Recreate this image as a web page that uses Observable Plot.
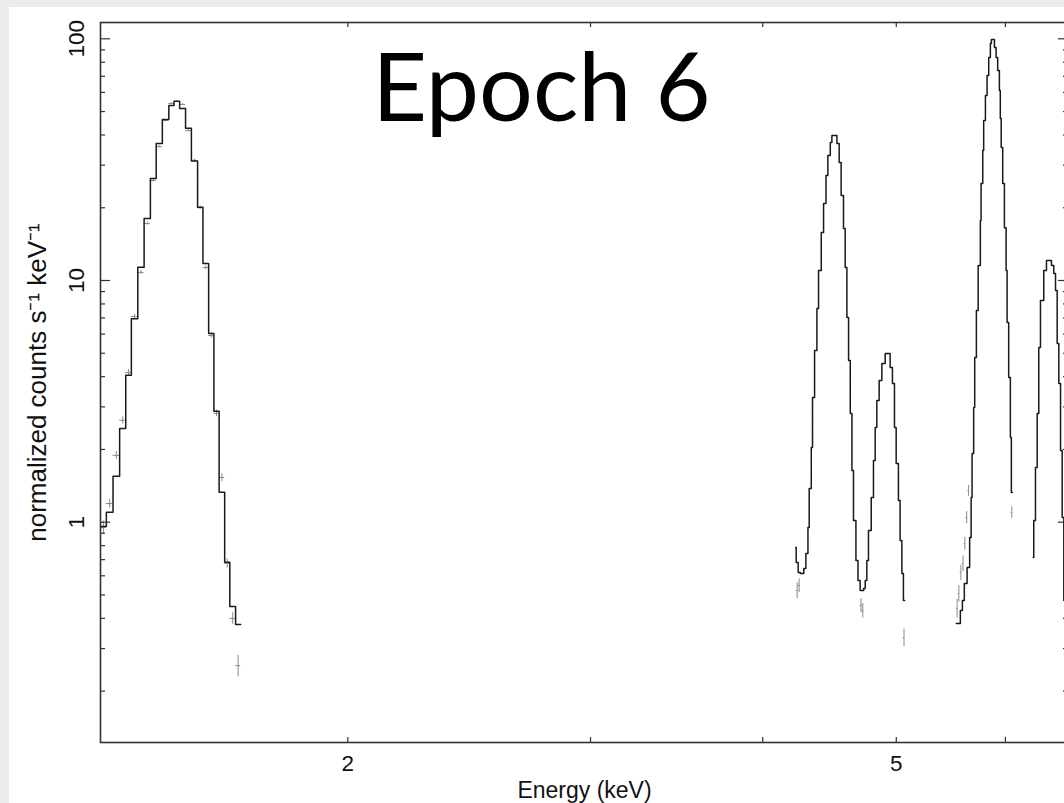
<!DOCTYPE html>
<html>
<head>
<meta charset="utf-8">
<script src="https://cdn.jsdelivr.net/npm/d3@7"></script>
<script src="https://cdn.jsdelivr.net/npm/@observablehq/plot@0.6"></script>
<style>
  html, body { margin: 0; padding: 0; background: #ebebeb; overflow: hidden; width: 1064px; height: 803px; }
  #panel { position: absolute; left: 9px; top: 7px; width: 1064px; height: 796px; background: #fff; overflow: hidden; }
</style>
</head>
<body>
<div id="panel"></div>
<script>
// ---------- data (energy in keV, normalized counts s^-1 keV^-1) ----------
const titleText = "Epoch 6";
const xTitle = "Energy (keV)";
const yTitle = "normalized counts s\u207B\u00B9 keV\u207B\u00B9";

const xTicks = [2, 3, 4, 5, 6];
const xTickLabels = [2, 5];
const yMajorTicks = [1, 10, 100];
const yMinorTicks = [0.2, 0.3, 0.4, 0.5, 0.6, 0.7, 0.8, 0.9, 2, 3, 4, 5, 6, 7, 8, 9, 20, 30, 40, 50, 60, 70, 80, 90];
const yTickLabels = [1, 10, 100];

// model (step) : bin edges and values, line group 1 (~1.5 keV)
const edges1 = [1.323, 1.336, 1.351, 1.366, 1.380, 1.393, 1.408, 1.423, 1.438, 1.452, 1.467, 1.483, 1.496,
  1.510, 1.525, 1.540, 1.556, 1.570, 1.585, 1.599, 1.613, 1.628, 1.642, 1.658, 1.672];
const model1 = [0.96, 1.10, 1.55, 2.44, 4.05, 6.94, 11.35, 18.05, 26.4, 36.9, 46.4, 53.0, 55.2,
  51.5, 42.6, 31.2, 20.1, 11.76, 6.04, 2.88, 1.33, 0.683, 0.448, 0.377];
const data1 = [0.95, 1.195, 1.89, 2.64, 4.16, 7.10, 10.8, 17.2, 25.9, 35.8, 45.9, 54.0, 55.0,
  53.5, 41.7, 31.4, 20.0, 11.3, 5.92, 2.82, 1.53, 0.675, 0.40, 0.255];
const err1 = [0.06, 0.05, 0.07, 0.09, 0.12, 0.15, 0.2, 0.25, 0.3, 0.35, 0.4, 0.4, 0.4,
  0.4, 0.4, 0.35, 0.3, 0.2, 0.15, 0.09, 0.06, 0.03, 0.022, 0.026];

// group 2 (~4.4 and ~4.9 keV)
const edges2 = [4.226, 4.230, 4.244, 4.259, 4.284, 4.299, 4.314, 4.323, 4.338, 4.347, 4.362, 4.379, 4.391,
  4.411, 4.428, 4.446, 4.460, 4.478, 4.490, 4.528, 4.545, 4.560, 4.578, 4.591, 4.604, 4.617, 4.630,
  4.643, 4.655, 4.674, 4.690, 4.707, 4.735, 4.747, 4.760, 4.773, 4.795, 4.813, 4.827, 4.840, 4.859,
  4.881, 4.908, 4.949, 4.968, 4.985, 4.999, 5.018, 5.032, 5.047, 5.060, 5.070];
const model2 = [0.786, 0.681, 0.619, 0.613, 0.643, 0.742, 0.951, 1.378, 2.037, 3.281, 5.133, 7.658, 11.00,
  15.80, 20.83, 27.20, 32.90, 37.24, 39.81, 36.88, 30.77, 22.47, 16.41, 11.32, 7.03, 4.67,
  2.818, 1.636, 1.016, 0.694, 0.574, 0.522, 0.532, 0.574, 0.694, 0.924, 1.265, 1.800, 2.465, 3.188,
  3.857, 4.536, 4.989, 4.365, 3.749, 2.465, 1.749, 1.229, 0.840, 0.613, 0.474];

// group 3 (~5.86 keV)
const edges3 = [5.528, 5.565, 5.584, 5.602, 5.628, 5.652, 5.666, 5.675, 5.690, 5.700, 5.716, 5.733, 5.754,
  5.761, 5.777, 5.786, 5.803, 5.819, 5.835, 5.851, 5.861, 5.891, 5.907, 5.923, 5.940, 5.949, 5.958,
  5.973, 5.990, 6.007, 6.017, 6.033, 6.050, 6.060, 6.070];
const model3 = [0.381, 0.431, 0.474, 0.558, 0.650, 0.864, 1.265, 1.924, 2.983, 4.801, 7.514, 11.54, 17.71,
  25.20, 34.51, 45.92, 58.29, 70.51, 83.69, 95.63, 99.34, 92.04, 83.69, 73.94, 61.12, 46.81, 35.51,
  25.20, 16.53, 11.00, 6.70, 3.969, 2.241, 1.327];

// group 4 (~6.43 keV)
const edges4 = [6.285, 6.291, 6.309, 6.327, 6.344, 6.362, 6.397, 6.426, 6.480, 6.505, 6.524, 6.542, 6.560,
  6.579, 6.597, 6.615, 6.634, 6.667];
const model4 = [0.714, 1.016, 1.684, 2.818, 5.282, 8.268, 11.00, 12.10, 11.54, 10.69, 9.09, 5.486, 3.749,
  1.980, 1.046, 0.474, 0.35];

// extra visible data points (centre energy, value, error)
const extraE = [4.237, 4.251, 4.714, 4.728, 5.065, 5.535, 5.551, 5.570, 5.590, 5.607, 5.624, 5.642, 6.065];
const extraV = [0.522, 0.547, 0.452, 0.431, 0.333, 0.44, 0.507, 0.619, 0.675, 0.816, 1.046, 1.35, 1.097];
const extraErr = [0.04, 0.035, 0.03, 0.03, 0.028, 0.04, 0.04, 0.045, 0.05, 0.05, 0.06, 0.07, 0.06];

// ---------- build tables ----------
function stepPoints(edges, vals, seg) {
  const pts = vals.map((v, i) => ({e: edges[i], v, seg}));
  pts.push({e: edges[edges.length - 1], v: vals[vals.length - 1], seg});
  return pts;
}
const modelPts = [
  ...stepPoints(edges1, model1, 1),
  ...stepPoints(edges2, model2, 2),
  ...stepPoints(edges3, model3, 3),
  ...stepPoints(edges4, model4, 4)
];
const halfBin = 0.007;
const dataPts = [
  ...data1.map((v, i) => ({e: Math.sqrt(edges1[i] * edges1[i + 1]), lo: edges1[i], hi: edges1[i + 1], v, v0: v - err1[i], v1: v + err1[i]})),
  ...extraE.map((e, i) => ({e, lo: e - halfBin, hi: e + halfBin, v: extraV[i], v0: extraV[i] - extraErr[i], v1: extraV[i] + extraErr[i]}))
];

// ---------- layout ----------
const W = 1064, H = 796, mL = 91, mR = 5, mT = 15, mB = 61;
const innerW = W - mL - mR, innerH = H - mT - mB;
const font = "'Liberation Sans', Arial, Helvetica, sans-serif";
const ink = "#111";

const chart = Plot.plot({
  width: W, height: H,
  marginLeft: mL, marginRight: mR, marginTop: mT, marginBottom: mB,
  style: {background: "white", fontFamily: font, overflow: "visible"},
  x: {type: "log", domain: [1.323, 6.667], axis: null},
  y: {type: "log", domain: [0.1226, 116.8], axis: null},
  marks: [
    // data crosses
    Plot.ruleY(dataPts, {y: "v", x1: "lo", x2: "hi", stroke: "#8a8a8a", strokeWidth: 1}),
    Plot.ruleX(dataPts, {x: "e", y1: "v0", y2: "v1", stroke: "#8a8a8a", strokeWidth: 1}),
    // model steps
    Plot.line(modelPts, {x: "e", y: "v", z: "seg", curve: "step-after", stroke: "#1a1a1a", strokeWidth: 1.5}),
    // frame
    Plot.frame({stroke: "#333", strokeWidth: 1.6}),
    // inward ticks
    Plot.tickX(xTicks, {x: d => d, insetTop: innerH - 5, stroke: "#333", strokeWidth: 1.2}),
    Plot.tickX(xTicks, {x: d => d, insetBottom: innerH - 5, stroke: "#333", strokeWidth: 1.2}),
    Plot.tickY(yMajorTicks, {y: d => d, insetRight: innerW - 10, stroke: "#333", strokeWidth: 1.2}),
    Plot.tickY(yMajorTicks, {y: d => d, insetLeft: innerW - 10, stroke: "#333", strokeWidth: 1.2}),
    Plot.tickY(yMinorTicks, {y: d => d, insetRight: innerW - 5, stroke: "#333", strokeWidth: 1.2}),
    Plot.tickY(yMinorTicks, {y: d => d, insetLeft: innerW - 5, stroke: "#333", strokeWidth: 1.2}),
    // tick labels
    Plot.text(xTickLabels, {x: d => d, text: d => String(d), frameAnchor: "bottom", lineAnchor: "middle", dy: 21, fontSize: 22.5, fill: ink}),
    Plot.text(yTickLabels, {y: d => d, text: d => String(d), frameAnchor: "left", textAnchor: "middle", lineAnchor: "middle", dx: -23.5, rotate: -90, fontSize: 22.5, fill: ink}),
    // axis titles
    Plot.text([xTitle], {text: d => d, frameAnchor: "bottom", lineAnchor: "middle", dy: 48, fontSize: 23, fill: ink}),
    Plot.text([yTitle], {text: d => d, frameAnchor: "left", textAnchor: "middle", lineAnchor: "middle", dx: -63, rotate: -90, fontSize: 26, fill: ink}),
    // big title
    Plot.text([titleText], {text: d => d, frameAnchor: "top", textAnchor: "middle", dx: -43, dy: 98, lineAnchor: "bottom",
      fontSize: 95, fontFamily: "Lato, 'Noto Sans', sans-serif", fill: "#000"})
  ]
});
document.getElementById("panel").appendChild(chart);
</script>
</body>
</html>
